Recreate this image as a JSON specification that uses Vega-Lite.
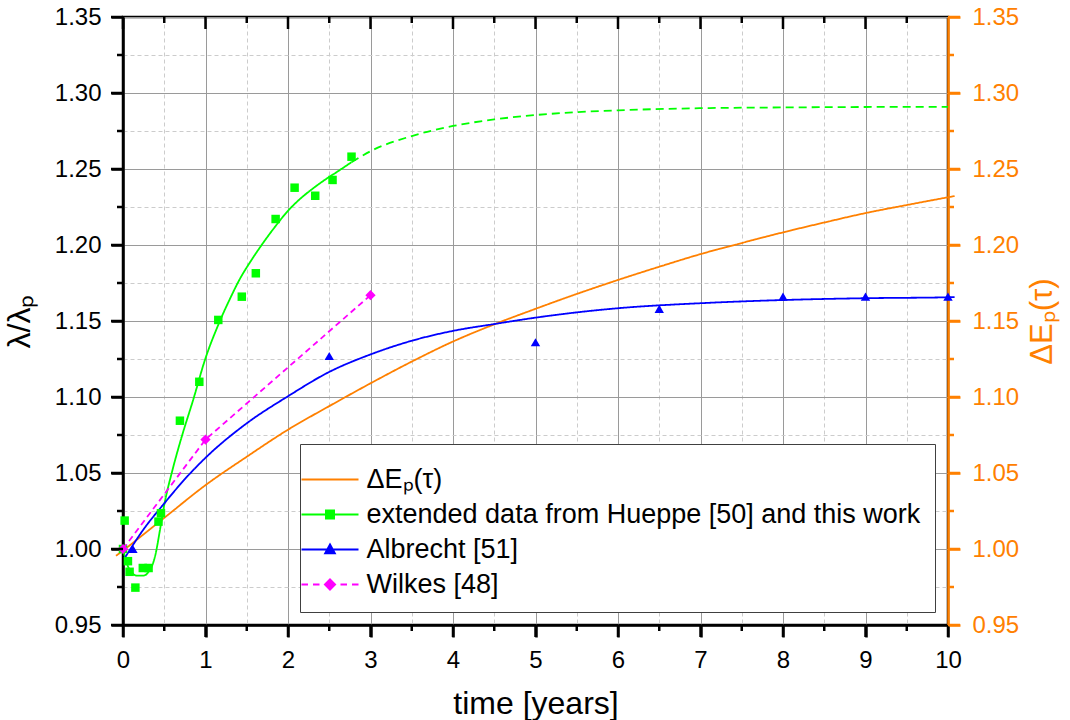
{
  "$schema": "https://vega.github.io/schema/vega-lite/v6.json",
  "width": 825,
  "height": 608,
  "autosize": {"type": "none"},
  "padding": {"left": 123, "top": 17, "right": 122, "bottom": 95},
  "background": "white",
  "config": {
    "font": "Liberation Sans",
    "view": {"stroke": "black", "strokeWidth": 2.5},
    "axis": {
      "labelFontSize": 24,
      "titleFontSize": 31,
      "titleFontWeight": "normal",
      "labelColor": "black",
      "titleColor": "black",
      "labelOverlap": false,
      "labelFlush": false,
      "ticks": true,
      "tickSize": 12,
      "tickWidth": 2.5,
      "tickColor": "black",
      "domainWidth": 2.5,
      "domainColor": "black"
    }
  },
  "datasets": {
    "ticksBlack": [
      {"t": 0, "v": 0.95, "dir": "down", "len": "major"}, {"t": 1, "v": 0.95, "dir": "down", "len": "major"}, {"t": 2, "v": 0.95, "dir": "down", "len": "major"}, {"t": 3, "v": 0.95, "dir": "down", "len": "major"}, {"t": 4, "v": 0.95, "dir": "down", "len": "major"}, {"t": 5, "v": 0.95, "dir": "down", "len": "major"}, {"t": 6, "v": 0.95, "dir": "down", "len": "major"}, {"t": 7, "v": 0.95, "dir": "down", "len": "major"}, {"t": 8, "v": 0.95, "dir": "down", "len": "major"}, {"t": 9, "v": 0.95, "dir": "down", "len": "major"}, {"t": 10, "v": 0.95, "dir": "down", "len": "major"},
      {"t": 0.5, "v": 0.95, "dir": "down", "len": "minor"}, {"t": 1.5, "v": 0.95, "dir": "down", "len": "minor"}, {"t": 2.5, "v": 0.95, "dir": "down", "len": "minor"}, {"t": 3.5, "v": 0.95, "dir": "down", "len": "minor"}, {"t": 4.5, "v": 0.95, "dir": "down", "len": "minor"}, {"t": 5.5, "v": 0.95, "dir": "down", "len": "minor"}, {"t": 6.5, "v": 0.95, "dir": "down", "len": "minor"}, {"t": 7.5, "v": 0.95, "dir": "down", "len": "minor"}, {"t": 8.5, "v": 0.95, "dir": "down", "len": "minor"}, {"t": 9.5, "v": 0.95, "dir": "down", "len": "minor"},
      {"t": 0, "v": 1.35, "dir": "down", "len": "major"}, {"t": 1, "v": 1.35, "dir": "down", "len": "major"}, {"t": 2, "v": 1.35, "dir": "down", "len": "major"}, {"t": 3, "v": 1.35, "dir": "down", "len": "major"}, {"t": 4, "v": 1.35, "dir": "down", "len": "major"}, {"t": 5, "v": 1.35, "dir": "down", "len": "major"}, {"t": 6, "v": 1.35, "dir": "down", "len": "major"}, {"t": 7, "v": 1.35, "dir": "down", "len": "major"}, {"t": 8, "v": 1.35, "dir": "down", "len": "major"}, {"t": 9, "v": 1.35, "dir": "down", "len": "major"},
      {"t": 0.5, "v": 1.35, "dir": "down", "len": "minor"}, {"t": 1.5, "v": 1.35, "dir": "down", "len": "minor"}, {"t": 2.5, "v": 1.35, "dir": "down", "len": "minor"}, {"t": 3.5, "v": 1.35, "dir": "down", "len": "minor"}, {"t": 4.5, "v": 1.35, "dir": "down", "len": "minor"}, {"t": 5.5, "v": 1.35, "dir": "down", "len": "minor"}, {"t": 6.5, "v": 1.35, "dir": "down", "len": "minor"}, {"t": 7.5, "v": 1.35, "dir": "down", "len": "minor"}, {"t": 8.5, "v": 1.35, "dir": "down", "len": "minor"}, {"t": 9.5, "v": 1.35, "dir": "down", "len": "minor"},
      {"t": 0, "v": 0.95, "dir": "left", "len": "major"}, {"t": 0, "v": 1.0, "dir": "left", "len": "major"}, {"t": 0, "v": 1.05, "dir": "left", "len": "major"}, {"t": 0, "v": 1.1, "dir": "left", "len": "major"}, {"t": 0, "v": 1.15, "dir": "left", "len": "major"}, {"t": 0, "v": 1.2, "dir": "left", "len": "major"}, {"t": 0, "v": 1.25, "dir": "left", "len": "major"}, {"t": 0, "v": 1.3, "dir": "left", "len": "major"}, {"t": 0, "v": 1.35, "dir": "left", "len": "major"},
      {"t": 0, "v": 0.975, "dir": "left", "len": "minor"}, {"t": 0, "v": 1.025, "dir": "left", "len": "minor"}, {"t": 0, "v": 1.075, "dir": "left", "len": "minor"}, {"t": 0, "v": 1.125, "dir": "left", "len": "minor"}, {"t": 0, "v": 1.175, "dir": "left", "len": "minor"}, {"t": 0, "v": 1.225, "dir": "left", "len": "minor"}, {"t": 0, "v": 1.275, "dir": "left", "len": "minor"}, {"t": 0, "v": 1.325, "dir": "left", "len": "minor"}
    ],
    "ticksOrange": [
      {"t": 10, "v": 0.95, "dir": "right", "len": "major"}, {"t": 10, "v": 1.0, "dir": "right", "len": "major"}, {"t": 10, "v": 1.05, "dir": "right", "len": "major"}, {"t": 10, "v": 1.1, "dir": "right", "len": "major"}, {"t": 10, "v": 1.15, "dir": "right", "len": "major"}, {"t": 10, "v": 1.2, "dir": "right", "len": "major"}, {"t": 10, "v": 1.25, "dir": "right", "len": "major"}, {"t": 10, "v": 1.3, "dir": "right", "len": "major"}, {"t": 10, "v": 1.35, "dir": "right", "len": "major"},
      {"t": 10, "v": 0.975, "dir": "right", "len": "minor"}, {"t": 10, "v": 1.025, "dir": "right", "len": "minor"}, {"t": 10, "v": 1.075, "dir": "right", "len": "minor"}, {"t": 10, "v": 1.125, "dir": "right", "len": "minor"}, {"t": 10, "v": 1.175, "dir": "right", "len": "minor"}, {"t": 10, "v": 1.225, "dir": "right", "len": "minor"}, {"t": 10, "v": 1.275, "dir": "right", "len": "minor"}, {"t": 10, "v": 1.325, "dir": "right", "len": "minor"}
    ],
    "curves": [
      {"s": "ΔEₚ(τ)", "d": "solid", "t": -0.085, "v": 0.9955},
      {"s": "ΔEₚ(τ)", "d": "solid", "t": 0, "v": 0.999},
      {"s": "ΔEₚ(τ)", "d": "solid", "t": 0.5, "v": 1.0205},
      {"s": "ΔEₚ(τ)", "d": "solid", "t": 1, "v": 1.042},
      {"s": "ΔEₚ(τ)", "d": "solid", "t": 1.5, "v": 1.0607},
      {"s": "ΔEₚ(τ)", "d": "solid", "t": 2, "v": 1.0785},
      {"s": "ΔEₚ(τ)", "d": "solid", "t": 2.5, "v": 1.094},
      {"s": "ΔEₚ(τ)", "d": "solid", "t": 3, "v": 1.109},
      {"s": "ΔEₚ(τ)", "d": "solid", "t": 3.5, "v": 1.1233},
      {"s": "ΔEₚ(τ)", "d": "solid", "t": 4, "v": 1.1365},
      {"s": "ΔEₚ(τ)", "d": "solid", "t": 4.5, "v": 1.1478},
      {"s": "ΔEₚ(τ)", "d": "solid", "t": 5, "v": 1.158},
      {"s": "ΔEₚ(τ)", "d": "solid", "t": 5.5, "v": 1.1678},
      {"s": "ΔEₚ(τ)", "d": "solid", "t": 6, "v": 1.177},
      {"s": "ΔEₚ(τ)", "d": "solid", "t": 6.5, "v": 1.1857},
      {"s": "ΔEₚ(τ)", "d": "solid", "t": 7, "v": 1.194},
      {"s": "ΔEₚ(τ)", "d": "solid", "t": 7.5, "v": 1.2013},
      {"s": "ΔEₚ(τ)", "d": "solid", "t": 8, "v": 1.2083},
      {"s": "ΔEₚ(τ)", "d": "solid", "t": 8.5, "v": 1.2148},
      {"s": "ΔEₚ(τ)", "d": "solid", "t": 9, "v": 1.221},
      {"s": "ΔEₚ(τ)", "d": "solid", "t": 9.5, "v": 1.2263},
      {"s": "ΔEₚ(τ)", "d": "solid", "t": 10, "v": 1.2314},
      {"s": "ΔEₚ(τ)", "d": "solid", "t": 10.08, "v": 1.2322},

      {"s": "extended data from Hueppe [50] and this work", "d": "solid", "t": 0.0, "v": 1.0},
      {"s": "extended data from Hueppe [50] and this work", "d": "solid", "t": 0.05, "v": 0.99},
      {"s": "extended data from Hueppe [50] and this work", "d": "solid", "t": 0.1, "v": 0.985},
      {"s": "extended data from Hueppe [50] and this work", "d": "solid", "t": 0.17, "v": 0.9825},
      {"s": "extended data from Hueppe [50] and this work", "d": "solid", "t": 0.25, "v": 0.9825},
      {"s": "extended data from Hueppe [50] and this work", "d": "solid", "t": 0.31, "v": 0.985},
      {"s": "extended data from Hueppe [50] and this work", "d": "solid", "t": 0.36, "v": 0.99},
      {"s": "extended data from Hueppe [50] and this work", "d": "solid", "t": 0.4, "v": 0.998},
      {"s": "extended data from Hueppe [50] and this work", "d": "solid", "t": 0.44, "v": 1.01},
      {"s": "extended data from Hueppe [50] and this work", "d": "solid", "t": 0.5, "v": 1.029},
      {"s": "extended data from Hueppe [50] and this work", "d": "solid", "t": 0.6, "v": 1.052},
      {"s": "extended data from Hueppe [50] and this work", "d": "solid", "t": 0.7, "v": 1.0717},
      {"s": "extended data from Hueppe [50] and this work", "d": "solid", "t": 0.85, "v": 1.098},
      {"s": "extended data from Hueppe [50] and this work", "d": "solid", "t": 1.0, "v": 1.1255},
      {"s": "extended data from Hueppe [50] and this work", "d": "solid", "t": 1.155, "v": 1.1475},
      {"s": "extended data from Hueppe [50] and this work", "d": "solid", "t": 1.3, "v": 1.165},
      {"s": "extended data from Hueppe [50] and this work", "d": "solid", "t": 1.42, "v": 1.178},
      {"s": "extended data from Hueppe [50] and this work", "d": "solid", "t": 1.55, "v": 1.1895},
      {"s": "extended data from Hueppe [50] and this work", "d": "solid", "t": 1.7, "v": 1.2015},
      {"s": "extended data from Hueppe [50] and this work", "d": "solid", "t": 1.85, "v": 1.2125},
      {"s": "extended data from Hueppe [50] and this work", "d": "solid", "t": 2.0, "v": 1.2225},
      {"s": "extended data from Hueppe [50] and this work", "d": "solid", "t": 2.15, "v": 1.2305},
      {"s": "extended data from Hueppe [50] and this work", "d": "solid", "t": 2.31, "v": 1.2375},
      {"s": "extended data from Hueppe [50] and this work", "d": "solid", "t": 2.45, "v": 1.243},
      {"s": "extended data from Hueppe [50] and this work", "d": "solid", "t": 2.6, "v": 1.2483},
      {"s": "extended data from Hueppe [50] and this work", "d": "solid", "t": 2.77, "v": 1.2545},

      {"s": "extended data from Hueppe [50] and this work", "d": "dash", "t": 2.77, "v": 1.2545},
      {"s": "extended data from Hueppe [50] and this work", "d": "dash", "t": 3.0, "v": 1.2617},
      {"s": "extended data from Hueppe [50] and this work", "d": "dash", "t": 3.5, "v": 1.2717},
      {"s": "extended data from Hueppe [50] and this work", "d": "dash", "t": 4.0, "v": 1.2783},
      {"s": "extended data from Hueppe [50] and this work", "d": "dash", "t": 4.5, "v": 1.2826},
      {"s": "extended data from Hueppe [50] and this work", "d": "dash", "t": 5.0, "v": 1.2855},
      {"s": "extended data from Hueppe [50] and this work", "d": "dash", "t": 5.5, "v": 1.2874},
      {"s": "extended data from Hueppe [50] and this work", "d": "dash", "t": 6.0, "v": 1.2886},
      {"s": "extended data from Hueppe [50] and this work", "d": "dash", "t": 7.0, "v": 1.29},
      {"s": "extended data from Hueppe [50] and this work", "d": "dash", "t": 8.0, "v": 1.2905},
      {"s": "extended data from Hueppe [50] and this work", "d": "dash", "t": 9.0, "v": 1.2908},
      {"s": "extended data from Hueppe [50] and this work", "d": "dash", "t": 10.0, "v": 1.2909},

      {"s": "Albrecht [51]", "d": "solid", "t": 0.02, "v": 0.994},
      {"s": "Albrecht [51]", "d": "solid", "t": 0.25, "v": 1.013},
      {"s": "Albrecht [51]", "d": "solid", "t": 0.5, "v": 1.03},
      {"s": "Albrecht [51]", "d": "solid", "t": 0.75, "v": 1.046},
      {"s": "Albrecht [51]", "d": "solid", "t": 1, "v": 1.06},
      {"s": "Albrecht [51]", "d": "solid", "t": 1.5, "v": 1.0827},
      {"s": "Albrecht [51]", "d": "solid", "t": 2, "v": 1.1005},
      {"s": "Albrecht [51]", "d": "solid", "t": 2.5, "v": 1.1165},
      {"s": "Albrecht [51]", "d": "solid", "t": 3, "v": 1.128},
      {"s": "Albrecht [51]", "d": "solid", "t": 3.5, "v": 1.137},
      {"s": "Albrecht [51]", "d": "solid", "t": 4, "v": 1.1435},
      {"s": "Albrecht [51]", "d": "solid", "t": 4.5, "v": 1.148},
      {"s": "Albrecht [51]", "d": "solid", "t": 5, "v": 1.1522},
      {"s": "Albrecht [51]", "d": "solid", "t": 6, "v": 1.1584},
      {"s": "Albrecht [51]", "d": "solid", "t": 7, "v": 1.1617},
      {"s": "Albrecht [51]", "d": "solid", "t": 8, "v": 1.1638},
      {"s": "Albrecht [51]", "d": "solid", "t": 9, "v": 1.165},
      {"s": "Albrecht [51]", "d": "solid", "t": 10, "v": 1.1656},
      {"s": "Albrecht [51]", "d": "solid", "t": 10.08, "v": 1.1657}
    ],
    "wilkesLine": [
      {"s": "Wilkes [48]", "t": 0, "v": 1.0},
      {"s": "Wilkes [48]", "t": 1, "v": 1.072},
      {"s": "Wilkes [48]", "t": 3, "v": 1.167}
    ],
    "points": [
      {"s": "extended data from Hueppe [50] and this work", "t": 0.0, "v": 1.0},
      {"s": "extended data from Hueppe [50] and this work", "t": 0.02, "v": 1.0187},
      {"s": "extended data from Hueppe [50] and this work", "t": 0.06, "v": 0.992},
      {"s": "extended data from Hueppe [50] and this work", "t": 0.08, "v": 0.985},
      {"s": "extended data from Hueppe [50] and this work", "t": 0.15, "v": 0.9746},
      {"s": "extended data from Hueppe [50] and this work", "t": 0.24, "v": 0.9875},
      {"s": "extended data from Hueppe [50] and this work", "t": 0.31, "v": 0.9875},
      {"s": "extended data from Hueppe [50] and this work", "t": 0.43, "v": 1.018},
      {"s": "extended data from Hueppe [50] and this work", "t": 0.46, "v": 1.0235},
      {"s": "extended data from Hueppe [50] and this work", "t": 0.69, "v": 1.0844},
      {"s": "extended data from Hueppe [50] and this work", "t": 0.925, "v": 1.11},
      {"s": "extended data from Hueppe [50] and this work", "t": 1.155, "v": 1.1507},
      {"s": "extended data from Hueppe [50] and this work", "t": 1.44, "v": 1.166},
      {"s": "extended data from Hueppe [50] and this work", "t": 1.61, "v": 1.1814},
      {"s": "extended data from Hueppe [50] and this work", "t": 1.85, "v": 1.2171},
      {"s": "extended data from Hueppe [50] and this work", "t": 2.08, "v": 1.2377},
      {"s": "extended data from Hueppe [50] and this work", "t": 2.33, "v": 1.2324},
      {"s": "extended data from Hueppe [50] and this work", "t": 2.54, "v": 1.2428},
      {"s": "extended data from Hueppe [50] and this work", "t": 2.77, "v": 1.2581},
      {"s": "Albrecht [51]", "t": 0.12, "v": 1.0},
      {"s": "Albrecht [51]", "t": 2.5, "v": 1.127},
      {"s": "Albrecht [51]", "t": 5, "v": 1.136},
      {"s": "Albrecht [51]", "t": 6.5, "v": 1.158},
      {"s": "Albrecht [51]", "t": 8, "v": 1.166},
      {"s": "Albrecht [51]", "t": 9, "v": 1.166},
      {"s": "Albrecht [51]", "t": 10, "v": 1.166},
      {"s": "Wilkes [48]", "t": 0, "v": 1.0},
      {"s": "Wilkes [48]", "t": 1, "v": 1.072},
      {"s": "Wilkes [48]", "t": 3, "v": 1.167}
    ]
  },
  "resolve": {
    "axis": {"x": "independent", "y": "independent"},
    "scale": {"shape": "independent", "size": "independent"}
  },
  "layer": [
    {
      "data": {"name": "curves"},
      "mark": {"type": "line", "strokeWidth": 1.8, "interpolate": "monotone"},
      "encoding": {
        "x": {
          "field": "t", "type": "quantitative",
          "scale": {"domain": [0, 10], "nice": false, "zero": false},
          "axis": {
            "orient": "bottom",
            "values": [0, 1, 2, 3, 4, 5, 6, 7, 8, 9, 10],
            "format": "d",
            "labelPadding": 11,
            "grid": true,
            "gridColor": "#9a9a9a",
            "gridWidth": 1,
            "title": "time [years]",
            "titleFontSize": 32,
            "titlePadding": 16
          }
        },
        "y": {
          "field": "v", "type": "quantitative",
          "scale": {"domain": [0.95, 1.35], "nice": false, "zero": false},
          "axis": {
            "orient": "left",
            "values": [0.95, 1.0, 1.05, 1.1, 1.15, 1.2, 1.25, 1.3, 1.35],
            "format": ".2f",
            "labelPadding": 10,
            "grid": true,
            "gridColor": "#9a9a9a",
            "gridWidth": 1,
            "title": "λ/λₚ",
            "titleFontSize": 32,
            "titlePadding": 18
          }
        },
        "color": {
          "field": "s", "type": "nominal",
          "scale": {
            "domain": ["ΔEₚ(τ)", "extended data from Hueppe [50] and this work", "Albrecht [51]", "Wilkes [48]"],
            "range": ["#FF8000", "#00FF00", "#0000FF", "#FF00FF"]
          },
          "legend": {
            "orient": "none",
            "legendX": 177,
            "legendY": 427,
            "title": " ",
            "titleFontSize": 8,
            "titlePadding": 0,
            "fillColor": "white",
            "strokeColor": "#404040",
            "padding": 14,
            "rowPadding": 7,
            "labelFont": "Liberation Sans",
            "labelFontSize": 27,
            "labelColor": "black",
            "labelLimit": 1000,
            "symbolSize": 100,
            "symbolStrokeWidth": 2,
            "symbolOffset": 2.5,
            "labelOffset": 23,
            "symbolType": "M-5.7,0H5.7",
            "values": ["ΔEₚ(τ)", "extended data from Hueppe [50] and this work", "Albrecht [51]", "Wilkes [48]"],
            "encode": {
              "symbols": {
                "update": {
                  "shape": {"signal": "['M-5.7,0H5.7', 'M-5.7,0H5.7M-0.8,-0.8H0.8V0.8H-0.8Z', 'M-5.7,0H5.7M0,-1L0.95,0.75L-0.95,0.75Z', 'M-5.7,0H-4.4M-3.4,0H-2.1M2.1,0H3.4M4.4,0H5.7M0,-1L1,0L0,1L-1,0Z'][datum.index]"},
                  "fill": {"signal": "['transparent', '#00FF00', '#0000FF', '#FF00FF'][datum.index]"},
                  "stroke": {"signal": "['#FF8000', '#00FF00', '#0000FF', '#FF00FF'][datum.index]"},
                  "strokeDash": {"value": []},
                  "opacity": {"value": 1},
                  "fillOpacity": {"value": 1}
                }
              }
            }
          }
        },
        "strokeDash": {
          "field": "d", "type": "nominal",
          "scale": {"domain": ["solid", "dash"], "range": [[1, 0], [8, 5]]},
          "legend": null
        }
      }
    },
    {
      "data": {"name": "points"},
      "mark": {"type": "point", "filled": true, "opacity": 1, "strokeWidth": 0},
      "encoding": {
        "x": {
          "field": "t", "type": "quantitative",
          "scale": {"domain": [0, 10], "nice": false, "zero": false},
          "axis": null
        },
        "y": {
          "field": "v", "type": "quantitative",
          "scale": {"domain": [0.95, 1.35], "nice": false, "zero": false},
          "axis": {
            "orient": "right",
            "values": [0.95, 1.0, 1.05, 1.1, 1.15, 1.2, 1.25, 1.3, 1.35],
            "format": ".2f",
            "domainColor": "#FF8000",
            "tickColor": "#FF8000",
            "labelPadding": 12,
            "grid": false,
            "labelColor": "#FF8000",
            "titleColor": "#FF8000",
            "title": "ΔEₚ(τ)",
            "titleFontSize": 31,
            "titleAngle": 270,
            "titleBaseline": "top",
            "titlePadding": 9
          }
        },
        "color": {
          "field": "s", "type": "nominal",
          "scale": {
            "domain": ["ΔEₚ(τ)", "extended data from Hueppe [50] and this work", "Albrecht [51]", "Wilkes [48]"],
            "range": ["#FF8000", "#00FF00", "#0000FF", "#FF00FF"]
          },
          "legend": null
        },
        "shape": {
          "field": "s", "type": "nominal",
          "scale": {
            "domain": ["extended data from Hueppe [50] and this work", "Albrecht [51]", "Wilkes [48]"],
            "range": ["square", "triangle-up", "diamond"]
          },
          "legend": null
        },
        "size": {
          "field": "s", "type": "nominal",
          "scale": {
            "domain": ["extended data from Hueppe [50] and this work", "Albrecht [51]", "Wilkes [48]"],
            "range": [72, 105, 100]
          },
          "legend": null
        }
      }
    },
    {
      "data": {"name": "wilkesLine"},
      "mark": {"type": "line", "strokeWidth": 1.8, "strokeDash": [6, 4], "color": "#FF00FF"},
      "encoding": {
        "x": {
          "field": "t", "type": "quantitative",
          "scale": {"domain": [0, 10], "nice": false, "zero": false},
          "axis": {
            "orient": "bottom",
            "values": [0.5, 1.5, 2.5, 3.5, 4.5, 5.5, 6.5, 7.5, 8.5, 9.5],
            "labels": false,
            "domain": false,
            "ticks": false,
            "title": null,
            "grid": true,
            "gridColor": "#cccccc",
            "gridDash": [4, 3],
            "gridWidth": 1
          }
        },
        "y": {
          "field": "v", "type": "quantitative",
          "scale": {"domain": [0.95, 1.35], "nice": false, "zero": false},
          "axis": {
            "orient": "left",
            "values": [0.975, 1.025, 1.075, 1.125, 1.175, 1.225, 1.275, 1.325],
            "labels": false,
            "domain": false,
            "ticks": false,
            "title": null,
            "grid": true,
            "gridColor": "#cccccc",
            "gridDash": [4, 3],
            "gridWidth": 1
          }
        }
      }
    },
    {
      "data": {"name": "ticksBlack"},
      "mark": {"type": "point", "filled": false, "opacity": 1, "color": "black", "strokeWidth": 2.5, "strokeCap": "butt"},
      "encoding": {
        "x": {"field": "t", "type": "quantitative", "axis": null},
        "y": {"field": "v", "type": "quantitative", "axis": null},
        "shape": {
          "field": "dir", "type": "nominal",
          "scale": {"domain": ["down", "left", "right"], "range": ["M0,0L0,2", "M0,0L-2,0", "M0,0L2,0"]},
          "legend": null
        },
        "size": {
          "field": "len", "type": "nominal",
          "scale": {"domain": ["major", "minor"], "range": [144, 36]},
          "legend": null
        }
      }
    },
    {
      "data": {"name": "ticksOrange"},
      "mark": {"type": "point", "filled": false, "opacity": 1, "color": "#FF8000", "strokeWidth": 2.5, "strokeCap": "butt"},
      "encoding": {
        "x": {"field": "t", "type": "quantitative", "axis": null},
        "y": {"field": "v", "type": "quantitative", "axis": null},
        "shape": {
          "field": "dir", "type": "nominal",
          "scale": {"domain": ["down", "left", "right"], "range": ["M0,0L0,2", "M0,0L-2,0", "M0,0L2,0"]},
          "legend": null
        },
        "size": {
          "field": "len", "type": "nominal",
          "scale": {"domain": ["major", "minor"], "range": [144, 36]},
          "legend": null
        }
      }
    }
  ]
}
